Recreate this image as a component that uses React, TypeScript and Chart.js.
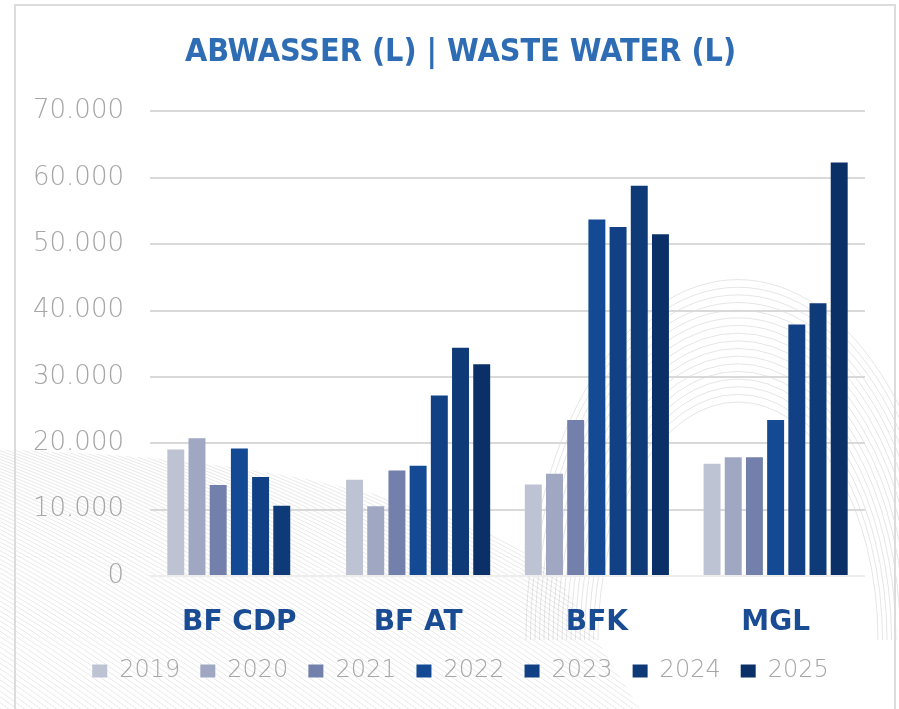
import React, { useEffect, useRef } from "react";
import { Chart, registerables } from "chart.js";

Chart.register(...registerables);

const categories = ["BF CDP", "BF AT", "BFK", "MGL"];
const years = ["2019", "2020", "2021", "2022", "2023", "2024", "2025"];
const v2019 = [19050, 14500, 13800, 16900];
const v2020 = [20750, 10500, 15400, 17900];
const v2021 = [13700, 15900, 23500, 17900];
const v2022 = [19200, 16600, 53700, 23500];
const v2023 = [14900, 27200, 52600, 37900];
const v2024 = [10600, 34400, 58800, 41100];
const v2025 = [null, 31900, 51500, 62300];
const seriesValues = [v2019, v2020, v2021, v2022, v2023, v2024, v2025];
const yTickValues = [0, 10000, 20000, 30000, 40000, 50000, 60000, 70000];
const titleText = "ABWASSER (L) | WASTE WATER (L)";

const barColors = ["#BEC3D4", "#A0A7C3", "#7280AB", "#134A93", "#114084", "#0F3A78", "#0B3068"];

const fmt = (v: number) => String(v).replace(/\B(?=(\d{3})+(?!\d))/g, ".");

const decoPlugin = {
  id: "deco",
  beforeDraw(chart: any) {
    const ctx = chart.ctx as CanvasRenderingContext2D;
    ctx.save();
    // lower-left hatch
    ctx.beginPath();
    ctx.moveTo(0, 450);
    ctx.bezierCurveTo(250, 455, 480, 500, 560, 580);
    ctx.lineTo(640, 709);
    ctx.lineTo(0, 709);
    ctx.closePath();
    ctx.clip();
    ctx.strokeStyle = "rgba(0,0,0,0.09)";
    ctx.lineWidth = 1;
    for (let x = -600; x < 700; x += 8) {
      ctx.beginPath();
      ctx.moveTo(x, 440);
      ctx.quadraticCurveTo(x + 250, 520, x + 520, 720);
      ctx.stroke();
    }
    ctx.restore();
    // right concentric arcs
    ctx.save();
    ctx.beginPath();
    ctx.rect(0, 0, 899, 709);
    ctx.clip();
    ctx.strokeStyle = "rgba(0,0,0,0.1)";
    ctx.lineWidth = 1;
    for (let rx = 140; rx <= 215; rx += 4.5) {
      ctx.beginPath();
      ctx.ellipse(738, 640, rx, rx * 1.7, 0, Math.PI, 2 * Math.PI);
      ctx.stroke();
    }
    ctx.restore();
  },
};

export default function App() {
  const ref = useRef<HTMLCanvasElement | null>(null);
  useEffect(() => {
    if (!ref.current) return;
    const chart = new Chart(ref.current, {
      type: "bar",
      data: {
        labels: categories,
        datasets: years.map((y, i) => ({
          label: y,
          data: seriesValues[i] as any,
          backgroundColor: barColors[i],
          borderColor: barColors[i],
          borderWidth: 0,
          barPercentage: 0.8,
          categoryPercentage: 0.83,
        })),
      },
      options: {
        responsive: false,
        animation: false,
        devicePixelRatio: 1,
        layout: { padding: { left: 22, right: 0, top: 0, bottom: 16 } },
        plugins: {
          title: {
            display: true,
            text: titleText,
            color: "#2E6DB4",
            font: { family: "'DejaVu Sans Condensed', 'DejaVu Sans'", size: 32, weight: "bold" },
            padding: { top: 33, bottom: 40 },
          },
          legend: {
            display: true,
            position: "bottom",
            labels: {
              boxWidth: 15,
              boxHeight: 13,
              padding: 20,
              color: "#A6A6A6",
              font: { family: "'DejaVu Sans'", size: 24, weight: "200" },
            },
          },
          tooltip: { enabled: false },
        },
        scales: {
          x: {
            grid: { display: false },
            border: { display: false },
            ticks: {
              color: "#1A4C94",
              font: { family: "'DejaVu Sans'", size: 28, weight: "bold" },
              padding: 22,
            },
            afterFit: (s: any) => {
              s.height = 63;
            },
          },
          y: {
            min: 0,
            max: 70000,
            afterBuildTicks: (s: any) => {
              s.ticks = yTickValues.map((v) => ({ value: v }));
            },
            ticks: {
              color: "#A6A6A6",
              font: { family: "'DejaVu Sans'", size: 26, weight: "200" },
              padding: 26,
              callback: (v: any) => fmt(Number(v)),
            },
            grid: {
              drawTicks: false,
              lineWidth: 2,
              color: (c: any) => (c.tick && c.tick.value === 0 ? "#EDEDED" : "#D9D9D9"),
            },
            border: { display: false },
            afterFit: (s: any) => {
              s.width = 128;
            },
          },
          yR: {
            type: "linear",
            position: "right",
            display: true,
            grid: { display: false },
            border: { display: false },
            ticks: { display: false },
            afterFit: (s: any) => {
              s.width = 34;
            },
          },
        },
      } as any,
      plugins: [decoPlugin],
    });
    return () => chart.destroy();
  }, []);
  return (
    <div style={{ position: "fixed", left: 0, top: 0, width: 899, height: 709, background: "#fff", overflow: "hidden" }}>
      <canvas ref={ref} width={899} height={709} style={{ position: "absolute", left: 0, top: 0 }} />
      <div
        style={{
          position: "absolute",
          left: 14,
          top: 4,
          width: 878,
          height: 760,
          border: "2px solid #DCDCDC",
          pointerEvents: "none",
        }}
      />
    </div>
  );
}
